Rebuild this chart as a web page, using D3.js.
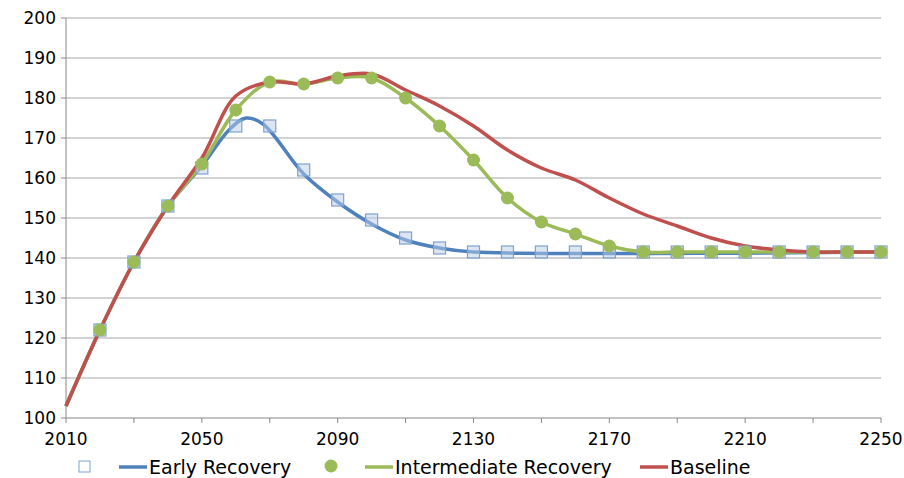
<!DOCTYPE html>
<html><head><meta charset="utf-8">
<script src="https://cdn.jsdelivr.net/npm/d3@7"></script>
<style>body{margin:0;background:#fff}text{font-family:"DejaVu Sans",sans-serif}</style>
</head><body><svg id="c" width="904" height="478"></svg>
<script>
const years = d3.range(2010, 2251, 10);
const early = [103,122,139,153,162.5,173,173,162,154.5,149.5,145,142.5,141.5,141.5,141.5,141.5,141.5,141.5,141.5,141.5,141.5,141.5,141.5,141.5,141.5];
const earlyLine = [[2010,103],[2020,122],[2030,139],[2040,153],[2050,163],[2058,172],[2063,175],[2068,173.5],[2080,161],[2090,154],[2100,148.5],[2110,144.5],[2120,142.5],[2130,141.5],[2250,141.5]];
const inter = [103,122,139,153,163.5,177,184,183.5,185,185,180,173,164.5,155,149,146,143,141.5,141.5,141.5,141.5,141.5,141.5,141.5,141.5];
const baseline = [103,122,139,153,165,180.5,184,183.5,185.5,186,182,178,173,167,162.5,159.5,155,151,148,145,143,142,141.5,141.5,141.5];
const yTicks = d3.range(100, 201, 10);
const xTicks = d3.range(2010, 2251, 40);

const svg = d3.select("#c");
const x = d3.scaleLinear().domain([2010, 2250]).range([66, 881]);
const y = d3.scaleLinear().domain([100, 200]).range([418, 18]);

svg.append("g").selectAll("line").data(yTicks.slice(1)).join("line")
  .attr("x1", 66).attr("x2", 881).attr("y1", d => y(d)).attr("y2", d => y(d))
  .attr("stroke", "#a6a6a6").attr("stroke-width", 1);
svg.append("line").attr("x1", 66).attr("x2", 66).attr("y1", 18).attr("y2", 418).attr("stroke", "#888");
svg.append("line").attr("x1", 66).attr("x2", 881).attr("y1", 418).attr("y2", 418).attr("stroke", "#888");
svg.append("g").selectAll("line").data(yTicks).join("line")
  .attr("x1", 61).attr("x2", 66).attr("y1", d => y(d)).attr("y2", d => y(d)).attr("stroke", "#888");
svg.append("g").selectAll("line").data(d3.range(2010, 2251, 20)).join("line")
  .attr("x1", d => x(d)).attr("x2", d => x(d)).attr("y1", 418).attr("y2", 423).attr("stroke", "#888");
svg.append("g").selectAll("text").data(yTicks).join("text")
  .attr("x", 56).attr("y", d => y(d) + 6).attr("text-anchor", "end").attr("font-size", 17).text(d => d);
svg.append("g").selectAll("text").data(xTicks).join("text")
  .attr("x", d => x(d)).attr("y", 445).attr("text-anchor", "middle").attr("font-size", 17).text(d => d);

const line = d3.line().x(d => x(d[0])).y(d => y(d[1])).curve(d3.curveCatmullRom);
const zip = v => years.map((yr, i) => [yr, v[i]]);

svg.append("path").attr("d", line(earlyLine)).attr("fill", "none").attr("stroke", "#4f81bd").attr("stroke-width", 3.5);
svg.append("path").attr("d", line(zip(inter))).attr("fill", "none").attr("stroke", "#9bbb59").attr("stroke-width", 3.5);
svg.append("path").attr("d", line(zip(baseline))).attr("fill", "none").attr("stroke", "#c0504d").attr("stroke-width", 3.5);

svg.append("g").selectAll("rect").data(zip(early).slice(1)).join("rect")
  .attr("x", d => x(d[0]) - 6).attr("y", d => y(d[1]) - 6).attr("width", 12).attr("height", 12)
  .attr("fill", "#b9cde5").attr("fill-opacity", 0.5).attr("stroke", "#7da2d0").attr("stroke-width", 1.2);
svg.append("g").selectAll("circle").data(zip(inter).slice(1)).join("circle")
  .attr("cx", d => x(d[0])).attr("cy", d => y(d[1])).attr("r", 6.5).attr("fill", "#9bbb59");

// legend
const lg = svg.append("g");
lg.append("rect").attr("x", 79).attr("y", 461).attr("width", 11).attr("height", 11).attr("fill", "none").attr("stroke", "#7da2d0");
lg.append("line").attr("x1", 119).attr("x2", 147).attr("y1", 467).attr("y2", 467).attr("stroke", "#4f81bd").attr("stroke-width", 3.5);
lg.append("text").attr("x", 149).attr("y", 474).attr("font-size", 19).text("Early Recovery");
lg.append("circle").attr("cx", 331).attr("cy", 466).attr("r", 6.5).attr("fill", "#9bbb59");
lg.append("line").attr("x1", 365).attr("x2", 393).attr("y1", 467).attr("y2", 467).attr("stroke", "#9bbb59").attr("stroke-width", 3.5);
lg.append("text").attr("x", 395).attr("y", 474).attr("font-size", 19).text("Intermediate Recovery");
lg.append("line").attr("x1", 640).attr("x2", 668).attr("y1", 467).attr("y2", 467).attr("stroke", "#c0504d").attr("stroke-width", 3.5);
lg.append("text").attr("x", 670).attr("y", 474).attr("font-size", 19).text("Baseline");
</script></body></html>
